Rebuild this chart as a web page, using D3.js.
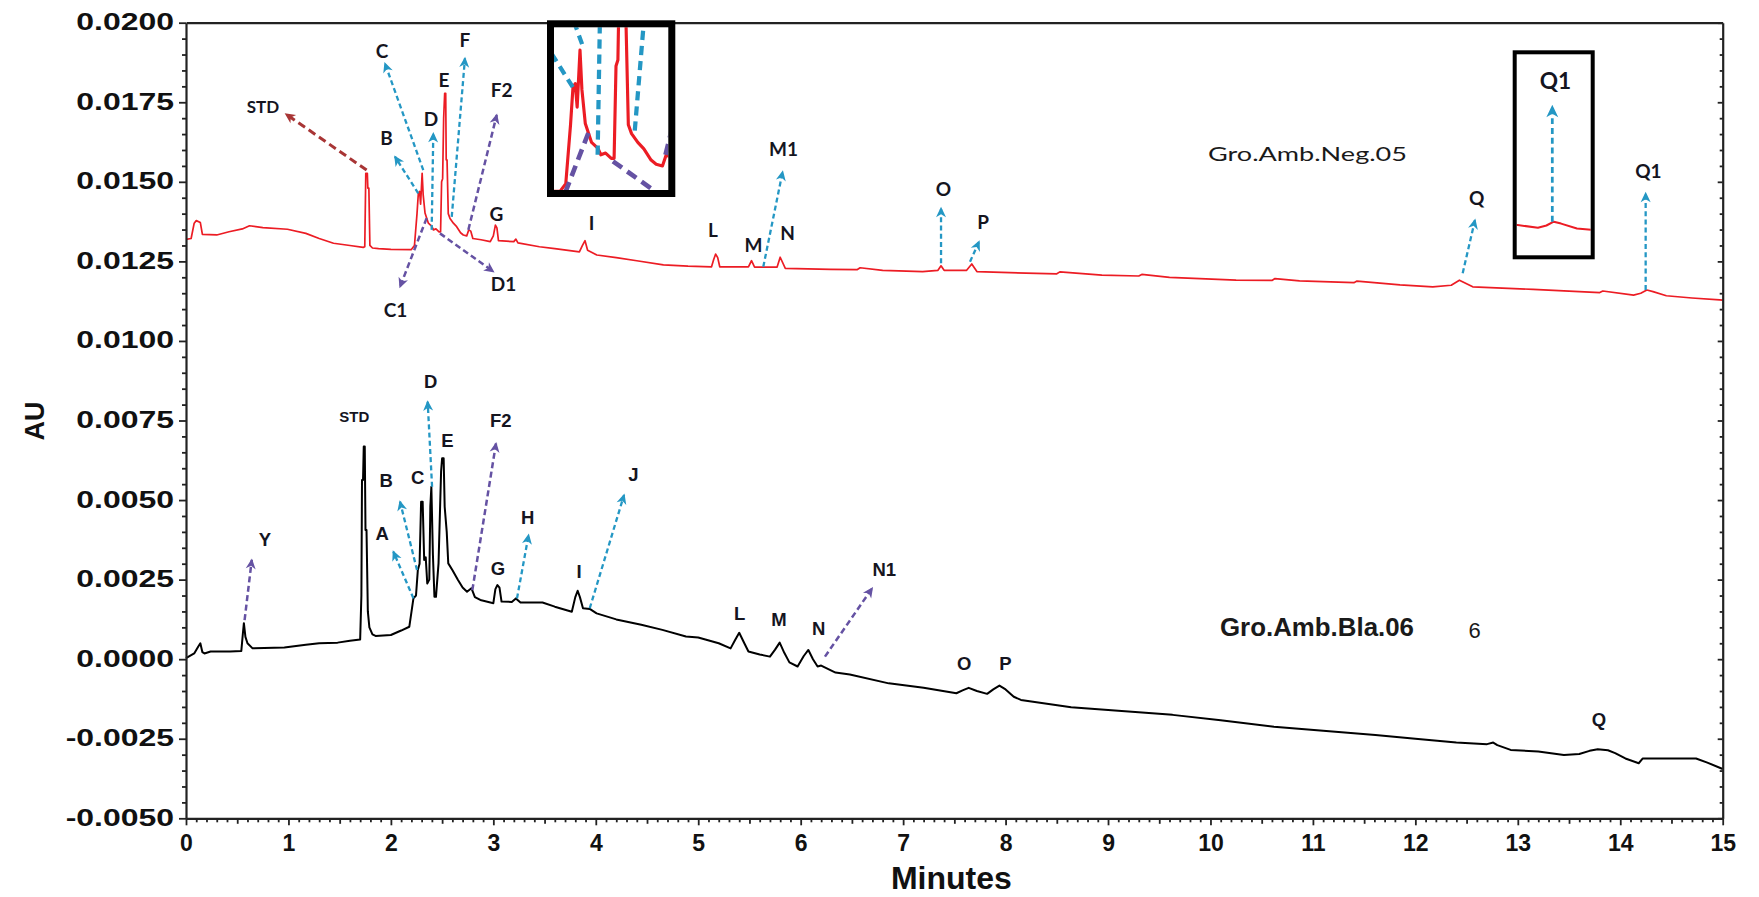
<!DOCTYPE html>
<html>
<head>
<meta charset="utf-8">
<script src="https://cdn.jsdelivr.net/npm/d3@7"></script>
<style>
  html, body { margin: 0; padding: 0; background: #fff; }
  svg { display: block; }
</style>
</head>
<body>
<svg id="chart" width="1759" height="897"></svg>
<script>
// ---- Chromatogram data: retention time (min) and absorbance (AU) ----
const negTime = [0.00,0.05,0.08,0.10,0.14,0.16,0.30,0.42,0.55,0.62,0.75,0.99,1.17,1.30,1.44,1.60,1.73,1.745,1.755,1.770,1.775,1.785,1.795,1.82,1.88,2.00,2.20,2.23,2.255,2.268,2.28,2.29,2.305,2.315,2.333,2.366,2.40,2.415,2.44,2.47,2.485,2.495,2.505,2.515,2.525,2.535,2.540,2.548,2.560,2.577,2.61,2.642,2.68,2.707,2.74,2.76,2.78,2.80,2.88,2.97,3.00,3.02,3.035,3.05,3.20,3.22,3.24,3.45,3.60,3.84,3.87,3.895,3.92,4.01,4.20,4.40,4.66,4.90,5.13,5.15,5.17,5.19,5.21,5.49,5.52,5.55,5.77,5.80,5.85,6.29,6.55,6.58,6.80,7.19,7.34,7.37,7.40,7.62,7.67,7.72,8.20,8.50,8.53,8.94,9.30,9.33,9.60,10.25,10.60,10.63,10.87,11.40,11.43,11.85,12.17,12.35,12.43,12.56,13.15,13.60,13.80,13.83,14.13,14.20,14.26,14.32,14.45,14.70,14.97,15.00];
const negAU = [0.01319,0.01322,0.01370,0.01378,0.01372,0.01335,0.01333,0.01343,0.01352,0.01362,0.01356,0.01351,0.01338,0.01322,0.01307,0.01300,0.01294,0.01296,0.01527,0.01527,0.01480,0.01480,0.01300,0.01292,0.01290,0.01288,0.01287,0.01300,0.01400,0.01464,0.01470,0.01430,0.01527,0.01460,0.01402,0.01370,0.01360,0.01349,0.01352,0.01343,0.01343,0.01500,0.01510,0.01700,0.01778,0.01778,0.01569,0.01569,0.01400,0.01385,0.01370,0.01359,0.01340,0.01333,0.01330,0.01349,0.01345,0.01322,0.01318,0.01312,0.01330,0.01364,0.01355,0.01315,0.01312,0.01320,0.01308,0.01296,0.01290,0.01280,0.01300,0.01315,0.01285,0.01270,0.01262,0.01252,0.01239,0.01235,0.01233,0.01255,0.01273,0.01262,0.01233,0.01233,0.01252,0.01232,0.01232,0.01263,0.01228,0.01225,0.01224,0.01230,0.01222,0.01218,0.01222,0.01236,0.01222,0.01222,0.01242,0.01218,0.01213,0.01211,0.01217,0.01207,0.01204,0.01209,0.01200,0.01191,0.01190,0.01196,0.01189,0.01183,0.01188,0.01176,0.01170,0.01175,0.01191,0.01170,0.01162,0.01155,0.01152,0.01157,0.01144,0.01150,0.01160,0.01155,0.01142,0.01135,0.01129,0.01128];

const blaTime = [0.00,0.08,0.12,0.14,0.16,0.18,0.24,0.43,0.54,0.555,0.565,0.58,0.60,0.65,0.96,1.17,1.30,1.48,1.60,1.70,1.712,1.718,1.728,1.735,1.745,1.752,1.762,1.775,1.79,1.82,1.85,2.00,2.10,2.18,2.22,2.245,2.263,2.28,2.295,2.31,2.325,2.34,2.355,2.375,2.385,2.395,2.41,2.425,2.44,2.465,2.49,2.50,2.515,2.525,2.545,2.56,2.60,2.655,2.70,2.743,2.786,2.82,2.873,3.00,3.02,3.04,3.06,3.08,3.18,3.22,3.265,3.48,3.60,3.766,3.80,3.823,3.845,3.875,3.941,4.008,4.20,4.444,4.65,4.88,5.00,5.20,5.316,5.36,5.40,5.45,5.49,5.60,5.70,5.75,5.795,5.84,5.89,5.97,6.03,6.075,6.12,6.165,6.20,6.34,6.48,6.86,7.20,7.52,7.58,7.64,7.72,7.82,7.88,7.94,8.00,8.08,8.15,8.64,9.10,9.63,10.10,10.62,11.10,11.61,12.00,12.40,12.70,12.76,12.80,12.93,13.20,13.45,13.60,13.70,13.78,13.88,13.95,14.05,14.18,14.22,14.40,14.74,14.85,15.00];
const blaAU = [0.00003,0.00018,0.00040,0.00050,0.00022,0.00018,0.00024,0.00024,0.00026,0.00080,0.00113,0.00070,0.00050,0.00034,0.00037,0.00045,0.00050,0.00052,0.00058,0.00062,0.00200,0.00563,0.00563,0.00668,0.00668,0.00406,0.00406,0.00150,0.00100,0.00078,0.00073,0.00076,0.00090,0.00102,0.00191,0.00200,0.00280,0.00300,0.00495,0.00495,0.00312,0.00320,0.00238,0.00250,0.00480,0.00542,0.00330,0.00196,0.00196,0.00301,0.00590,0.00631,0.00631,0.00479,0.00400,0.00301,0.00280,0.00249,0.00225,0.00212,0.00223,0.00195,0.00186,0.00176,0.00220,0.00233,0.00225,0.00181,0.00180,0.00191,0.00178,0.00178,0.00165,0.00149,0.00195,0.00215,0.00195,0.00160,0.00158,0.00144,0.00125,0.00108,0.00092,0.00071,0.00068,0.00050,0.00034,0.00060,0.00083,0.00050,0.00024,0.00015,0.00008,0.00030,0.00052,0.00020,-0.00010,-0.00023,0.00010,0.00029,0.00000,-0.00023,-0.00020,-0.00042,-0.00048,-0.00076,-0.00090,-0.00107,-0.00098,-0.00090,-0.00100,-0.00109,-0.00095,-0.00083,-0.00095,-0.00118,-0.00128,-0.00151,-0.00162,-0.00175,-0.00192,-0.00212,-0.00225,-0.00238,-0.00250,-0.00262,-0.00267,-0.00262,-0.00270,-0.00285,-0.00290,-0.00301,-0.00298,-0.00288,-0.00283,-0.00286,-0.00295,-0.00312,-0.00327,-0.00312,-0.00312,-0.00312,-0.00325,-0.00345];

// ---- Peak labels: text, time, AU ----
const negLabels = [
  ["STD",0.751,0.01735],["C",1.913,0.01911],["B",1.957,0.01636],["D",2.391,0.01696],
  ["E",2.518,0.01818],["F",2.723,0.01946],["F2",3.080,0.01789],["C1",2.045,0.01096],
  ["D1",3.099,0.01177],["G",3.031,0.01397],["I",3.958,0.01371],["L",5.144,0.01349],
  ["M",5.540,0.01302],["N",5.871,0.01338],["M1",5.832,0.01602],["O",7.394,0.01477],
  ["P",7.780,0.01372],["Q",12.599,0.01448],["Q1",14.274,0.01532]
];
const blaLabels = [
  ["Y",0.771,0.00376],["A",1.916,0.00396],["B",1.955,0.00563],["C",2.261,0.00571],
  ["D",2.388,0.00873],["E",2.553,0.00687],["F2",3.073,0.00749],["G",3.046,0.00285],
  ["H",3.336,0.00447],["I",3.836,0.00276],["J",4.368,0.00582],["L",5.405,0.00144],
  ["M",5.788,0.00125],["N",6.175,0.00097],["N1",6.816,0.00283],["O",7.596,-0.00014],
  ["P",7.999,-0.00013],["Q",13.792,-0.00188]
];
const blaStdLabel = ["STD",1.643,0.00763];

// ---- Pointer arrows: kind, from (time, AU), to (time, AU) ----
const negArrows = [
  ["std",1.763,0.01537,0.975,0.01713],
  ["cyan",2.316,0.01537,1.942,0.01872],
  ["cyan",2.267,0.01464,2.040,0.01579],
  ["cyan",2.398,0.01349,2.414,0.01652],
  ["cyan",2.594,0.01390,2.723,0.01888],
  ["purple",2.756,0.01349,3.033,0.01710],
  ["purple",2.349,0.01386,2.089,0.01170],
  ["purple",2.479,0.01338,3.000,0.01218],
  ["cyan",5.635,0.01233,5.824,0.01532],
  ["cyan",7.370,0.01244,7.370,0.01417],
  ["cyan",7.653,0.01249,7.741,0.01312],
  ["cyan",12.462,0.01213,12.582,0.01380],
  ["cyan",14.248,0.01160,14.248,0.01464]
];
const blaArrows = [
  ["purple",0.572,0.00123,0.642,0.00312],
  ["cyan",2.220,0.00191,2.024,0.00338],
  ["cyan",2.255,0.00280,2.089,0.00495],
  ["cyan",2.402,0.00542,2.359,0.00809],
  ["purple",2.795,0.00217,3.026,0.00678],
  ["cyan",3.231,0.00191,3.344,0.00390],
  ["cyan",3.941,0.00160,4.276,0.00516],
  ["purple",6.237,0.00008,6.698,0.00223]
];

// ---- Sample names ----
const negName = ["Gro.Amb.Neg.05", 9.976, 0.01588];
const blaName = ["Gro.Amb.Bla.06", 10.093, 0.00101];
const blaExtra = ["6", 12.579, 0.00091];

// ---- Axes ----
const xMajor = d3.range(0, 16, 1);
const xMedium = d3.range(0.5, 15, 1);
const xMinor = d3.range(0, 150).map(i => i / 10).filter(v => Math.abs(v * 2 - Math.round(v * 2)) > 1e-6);
const yMajor = [-0.0050,-0.0025,0.0000,0.0025,0.0050,0.0075,0.0100,0.0125,0.0150,0.0175,0.0200];
const yMinor = d3.range(-50, 201, 5).map(i => i / 10000).filter(v => Math.abs(v * 400 - Math.round(v * 400)) > 1e-6);

const svg = d3.select("#chart");
const x = d3.scaleLinear().domain([0, 15]).range([186, 1722.7]);
const y = d3.scaleLinear().domain([-0.005, 0.02]).range([818.3, 22.7]);

const colors = { neg: "#ec1c24", bla: "#000000", cyan: "#2497c4", purple: "#6552a3", std: "#a83535" };
const dashes = { cyan: "5,3.2", purple: "6,3.5", std: "8,4.5" };
const widths = { cyan: 2.3, purple: 2.5, std: 3 };

const defs = svg.append("defs");
["cyan","purple","std"].forEach(k => {
  defs.append("marker")
    .attr("id", "head-" + k)
    .attr("viewBox", "-11 -6 13 12")
    .attr("refX", 0).attr("refY", 0)
    .attr("markerWidth", 13).attr("markerHeight", 12)
    .attr("markerUnits", "userSpaceOnUse")
    .attr("orient", "auto")
    .append("path")
    .attr("d", "M1.5,0 L-9,-5 L-6,0 L-9,5 Z")
    .attr("fill", colors[k]);
});

// ---- Plot content (traces + annotations); reused by the magnified insets ----
const content = svg.append("g").attr("id", "plot-content");

const line = d3.line().x(d => x(d[0])).y(d => y(d[1]));
content.append("path")
  .datum(d3.zip(negTime, negAU))
  .attr("d", line).attr("fill", "none")
  .attr("stroke", colors.neg).attr("stroke-width", 1.7).attr("stroke-linejoin", "round");
content.append("path")
  .datum(d3.zip(blaTime, blaAU))
  .attr("d", line).attr("fill", "none")
  .attr("stroke", colors.bla).attr("stroke-width", 2).attr("stroke-linejoin", "round");

function drawArrows(list) {
  content.append("g").selectAll("line").data(list).join("line")
    .attr("x1", d => x(d[1])).attr("y1", d => y(d[2]))
    .attr("x2", d => x(d[3])).attr("y2", d => y(d[4]))
    .attr("stroke", d => colors[d[0]])
    .attr("stroke-width", d => widths[d[0]])
    .attr("stroke-dasharray", d => dashes[d[0]])
    .attr("marker-end", d => "url(#head-" + d[0] + ")");
}
drawArrows(negArrows);
drawArrows(blaArrows);

content.append("g").selectAll("text").data(negLabels).join("text")
  .attr("x", d => x(d[1])).attr("y", d => y(d[2])).attr("dy", "0.36em")
  .attr("text-anchor", "middle")
  .attr("font-family", "Lato, 'Open Sans', sans-serif").attr("font-weight", 700)
  .attr("font-size", d => d[0] === "STD" ? 17 : 19)
  .attr("fill", "#15151f")
  .text(d => d[0]);

content.append("g").selectAll("text").data(blaLabels).join("text")
  .attr("x", d => x(d[1])).attr("y", d => y(d[2])).attr("dy", "0.36em")
  .attr("text-anchor", "middle")
  .attr("font-family", "'Liberation Sans', Arial, sans-serif").attr("font-weight", 700)
  .attr("font-size", 18.5)
  .attr("fill", "#15151f")
  .text(d => d[0]);

content.append("text")
  .attr("x", x(blaStdLabel[1])).attr("y", y(blaStdLabel[2])).attr("dy", "0.36em")
  .attr("text-anchor", "middle")
  .attr("font-family", "'Liberation Sans', Arial, sans-serif").attr("font-weight", 700)
  .attr("font-size", 15).attr("fill", "#15151f")
  .text(blaStdLabel[0]);

content.append("text")
  .attr("x", x(negName[1])).attr("y", y(negName[2])).attr("dy", "0.36em")
  .attr("font-family", "Lato, 'Open Sans', sans-serif").attr("font-size", 20)
  .attr("textLength", 199).attr("lengthAdjust", "spacingAndGlyphs")
  .attr("fill", "#1a1a1a")
  .text(negName[0]);

content.append("text")
  .attr("x", x(blaName[1])).attr("y", y(blaName[2])).attr("dy", "0.36em")
  .attr("font-family", "'Liberation Sans', Arial, sans-serif").attr("font-size", 25)
  .attr("font-weight", 700)
  .attr("textLength", 194).attr("lengthAdjust", "spacingAndGlyphs")
  .attr("fill", "#1a1a1a")
  .text(blaName[0]);

content.append("text")
  .attr("x", x(blaExtra[1])).attr("y", y(blaExtra[2])).attr("dy", "0.36em")
  .attr("text-anchor", "middle")
  .attr("font-family", "'Liberation Sans', Arial, sans-serif").attr("font-size", 22)
  .attr("fill", "#1a1a1a")
  .text(blaExtra[0]);

// ---- Axes ----
const axisColor = "#222";
const axes = svg.append("g").attr("class", "axes");

function styleAxis(g) {
  g.selectAll("path.domain").attr("stroke", axisColor).attr("stroke-width", 2.2);
  g.selectAll(".tick line").attr("stroke", axisColor).attr("stroke-width", 1.8);
}

// left axis
const yFmt = v => (v < 0 ? "-" : "") + Math.abs(v).toFixed(4);
const gLeft = axes.append("g").attr("transform", `translate(${x(0)},0)`)
  .call(d3.axisLeft(y).tickValues(yMajor).tickSize(7).tickSizeOuter(0).tickFormat(yFmt));
gLeft.call(styleAxis);
gLeft.selectAll(".tick text")
  .attr("x", -12 / 1.39).attr("dy", null).attr("y", 7)
  .attr("transform", "scale(1.39,1)")
  .attr("font-family", "'Liberation Sans', Arial, sans-serif")
  .attr("font-weight", 700).attr("font-size", 23).attr("fill", "#111");
axes.append("g").attr("transform", `translate(${x(0)},0)`)
  .call(d3.axisLeft(y).tickValues(yMinor).tickSize(4).tickSizeOuter(0).tickFormat(""))
  .call(styleAxis).select("path.domain").remove();

// right axis (ticks pointing inward)
axes.append("g").attr("transform", `translate(${x(15)},0)`)
  .call(d3.axisLeft(y).tickValues(yMajor).tickSize(5).tickSizeOuter(0).tickFormat(""))
  .call(styleAxis);
axes.append("g").attr("transform", `translate(${x(15)},0)`)
  .call(d3.axisLeft(y).tickValues(yMinor).tickSize(3).tickSizeOuter(0).tickFormat(""))
  .call(styleAxis).select("path.domain").remove();

// top frame
axes.append("g").attr("transform", `translate(0,${y(0.02)})`)
  .call(d3.axisTop(x).tickValues([]).tickSizeOuter(0))
  .call(styleAxis);

// bottom axis
const gBottom = axes.append("g").attr("transform", `translate(0,${y(-0.005)})`)
  .call(d3.axisBottom(x).tickValues(xMajor).tickSize(7).tickSizeOuter(0).tickFormat(d3.format("d")));
gBottom.call(styleAxis);
gBottom.selectAll(".tick text")
  .attr("y", 33).attr("dy", null)
  .attr("font-family", "'Liberation Sans', Arial, sans-serif")
  .attr("font-weight", 700).attr("font-size", 23).attr("fill", "#111");
axes.append("g").attr("transform", `translate(0,${y(-0.005)})`)
  .call(d3.axisBottom(x).tickValues(xMedium).tickSize(5.5).tickSizeOuter(0).tickFormat(""))
  .call(styleAxis).select("path.domain").remove();
axes.append("g").attr("transform", `translate(0,${y(-0.005)})`)
  .call(d3.axisBottom(x).tickValues(xMinor).tickSize(4).tickSizeOuter(0).tickFormat(""))
  .call(styleAxis).select("path.domain").remove();

// axis titles
svg.append("text")
  .attr("x", (x(0) + x(15)) / 2 - 3).attr("y", 889)
  .attr("text-anchor", "middle")
  .attr("font-family", "'Liberation Sans', Arial, sans-serif")
  .attr("font-weight", 700).attr("font-size", 32).attr("fill", "#111")
  .text("Minutes");
svg.append("text")
  .attr("transform", "translate(44,421) rotate(-90)")
  .attr("text-anchor", "middle")
  .attr("font-family", "'Liberation Sans', Arial, sans-serif")
  .attr("font-weight", 700).attr("font-size", 27).attr("fill", "#111")
  .text("AU");

// ---- Magnified insets of the upper trace ----
function inset(id, box, k, cx, cy, border) {
  // box: inner [x, y, w, h, anchorX, anchorY]; (cx, cy) is the time/AU point placed at the anchor
  const [bx, by, bw, bh, ax, ay] = box;
  defs.append("clipPath").attr("id", id)
    .append("rect").attr("x", bx).attr("y", by).attr("width", bw).attr("height", bh);
  const g = svg.append("g");
  g.append("rect").attr("x", bx).attr("y", by).attr("width", bw).attr("height", bh).attr("fill", "#fff");
  const px = x(cx), py = y(cy);
  g.append("g").attr("clip-path", `url(#${id})`)
    .append("use").attr("href", "#plot-content")
    .attr("transform", `translate(${ax - k * px},${ay - k * py}) scale(${k})`);
  g.append("rect")
    .attr("x", bx - border / 2).attr("y", by - border / 2)
    .attr("width", bw + border).attr("height", bh + border)
    .attr("fill", "none").attr("stroke", "#000").attr("stroke-width", border);
}
inset("clip-left", [554, 27.3, 114.3, 162.7, 580, 50], 1.85, 2.305, 0.01527, 7);
inset("clip-right", [1516.7, 54.3, 74, 201, 1552.3, 221.7], 1.19, 14.248, 0.01160, 4);
</script>
</body>
</html>
